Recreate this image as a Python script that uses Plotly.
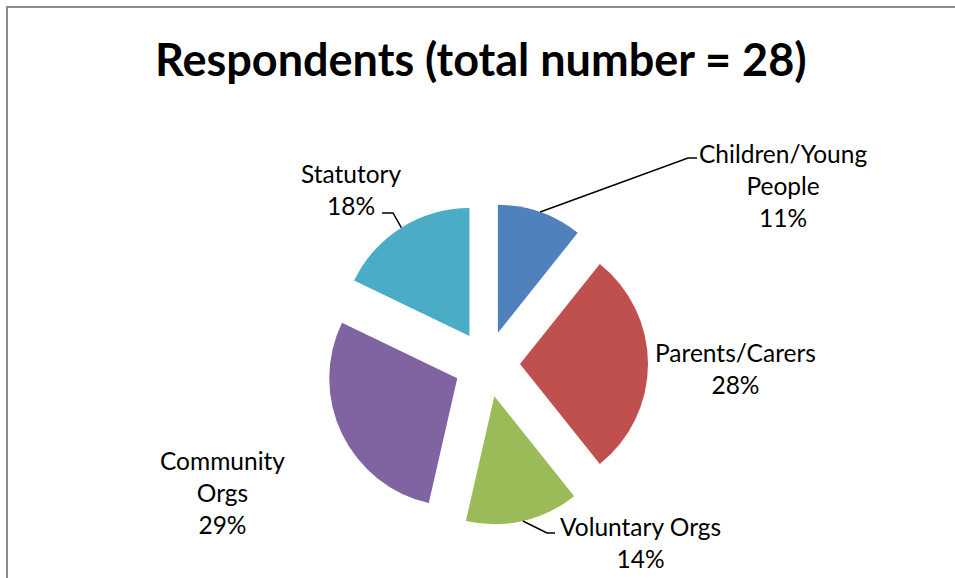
import math
import plotly.graph_objects as go

# ---- data ----
categories = ["Children/Young People", "Parents/Carers", "Voluntary Orgs", "Community Orgs", "Statutory"]
counts = [3, 8, 4, 8, 5]
pct_labels = ["11%", "28%", "14%", "29%", "18%"]
label_text = ["Children/Young<br>People<br>11%", "Parents/Carers<br>28%", "Voluntary Orgs<br>14%",
              "Community<br>Orgs<br>29%", "Statutory<br>18%"]
colors = ["#4F81BD", "#C0504D", "#9BBB59", "#8064A2", "#4BACC6"]
title_text = "Respondents (total number = 28)"

# ---- geometry (pixels) ----
W, H = 955, 578
CX, CY = 487, 364
R = 128
PULL_PX = 33
pull = PULL_PX / R
half = R * (1 + pull)

def px(x):
    return x / W

def py(y):
    return 1 - y / H

fig = go.Figure(go.Pie(
    labels=categories, values=counts, sort=False, direction="clockwise", rotation=0,
    pull=[pull] * len(counts), marker=dict(colors=colors, line=dict(width=0)),
    textinfo="none", hoverinfo="label+percent", showlegend=False,
    domain=dict(x=[px(CX - half), px(CX + half)], y=[py(CY + half), py(CY - half)]),
))

font_family = "Lato, 'Open Sans', sans-serif"
label_pos = [(783, 185), (735, 368), (640, 542), (222, 492), (351, 190)]
annotations = [dict(text="<b>%s</b>" % title_text, x=px(481), y=py(59), xref="paper", yref="paper",
                    showarrow=False, font=dict(size=45, color="#000", family=font_family),
                    xanchor="center", yanchor="middle")]
for t, (lx, ly) in zip(label_text, label_pos):
    annotations.append(dict(text=t, x=px(lx), y=py(ly), xref="paper", yref="paper", showarrow=False,
                            font=dict(size=24.5, color="#000", family=font_family),
                            xanchor="center", yanchor="middle", align="center"))

# leader lines: start at the arc mid-point of each slice (computed from data)
total = sum(counts)
mids = []
acc = 0
for v in counts:
    mids.append((acc + v / 2) / total * 2 * math.pi)
    acc += v

def arc_point(i):
    a = mids[i]
    sx, sy = math.sin(a), -math.cos(a)
    return CX + (PULL_PX + R) * sx, CY + (PULL_PX + R) * sy

leaders = {0: [(688, 158), (697, 158)], 4: [(393, 213), (382, 213)], 2: [(547, 533), (555, 533)]}
shapes = []
for i, pts in leaders.items():
    x0, y0 = arc_point(i)
    path = "M %f,%f" % (px(x0), py(y0)) + "".join(" L %f,%f" % (px(x), py(y)) for x, y in pts)
    shapes.append(dict(type="path", path=path, xref="paper", yref="paper",
                       line=dict(color="#000", width=1.5)))

# chart frame
shapes.append(dict(type="rect", xref="paper", yref="paper", x0=px(7), y0=-0.1, x1=1.1, y1=py(7),
                   line=dict(color="#8c8c8c", width=2), fillcolor="rgba(0,0,0,0)"))

fig.update_layout(width=W, height=H, margin=dict(l=0, r=0, t=0, b=0),
                  paper_bgcolor="white", plot_bgcolor="white",
                  annotations=annotations, shapes=shapes)
fig.write_html("out.html")
